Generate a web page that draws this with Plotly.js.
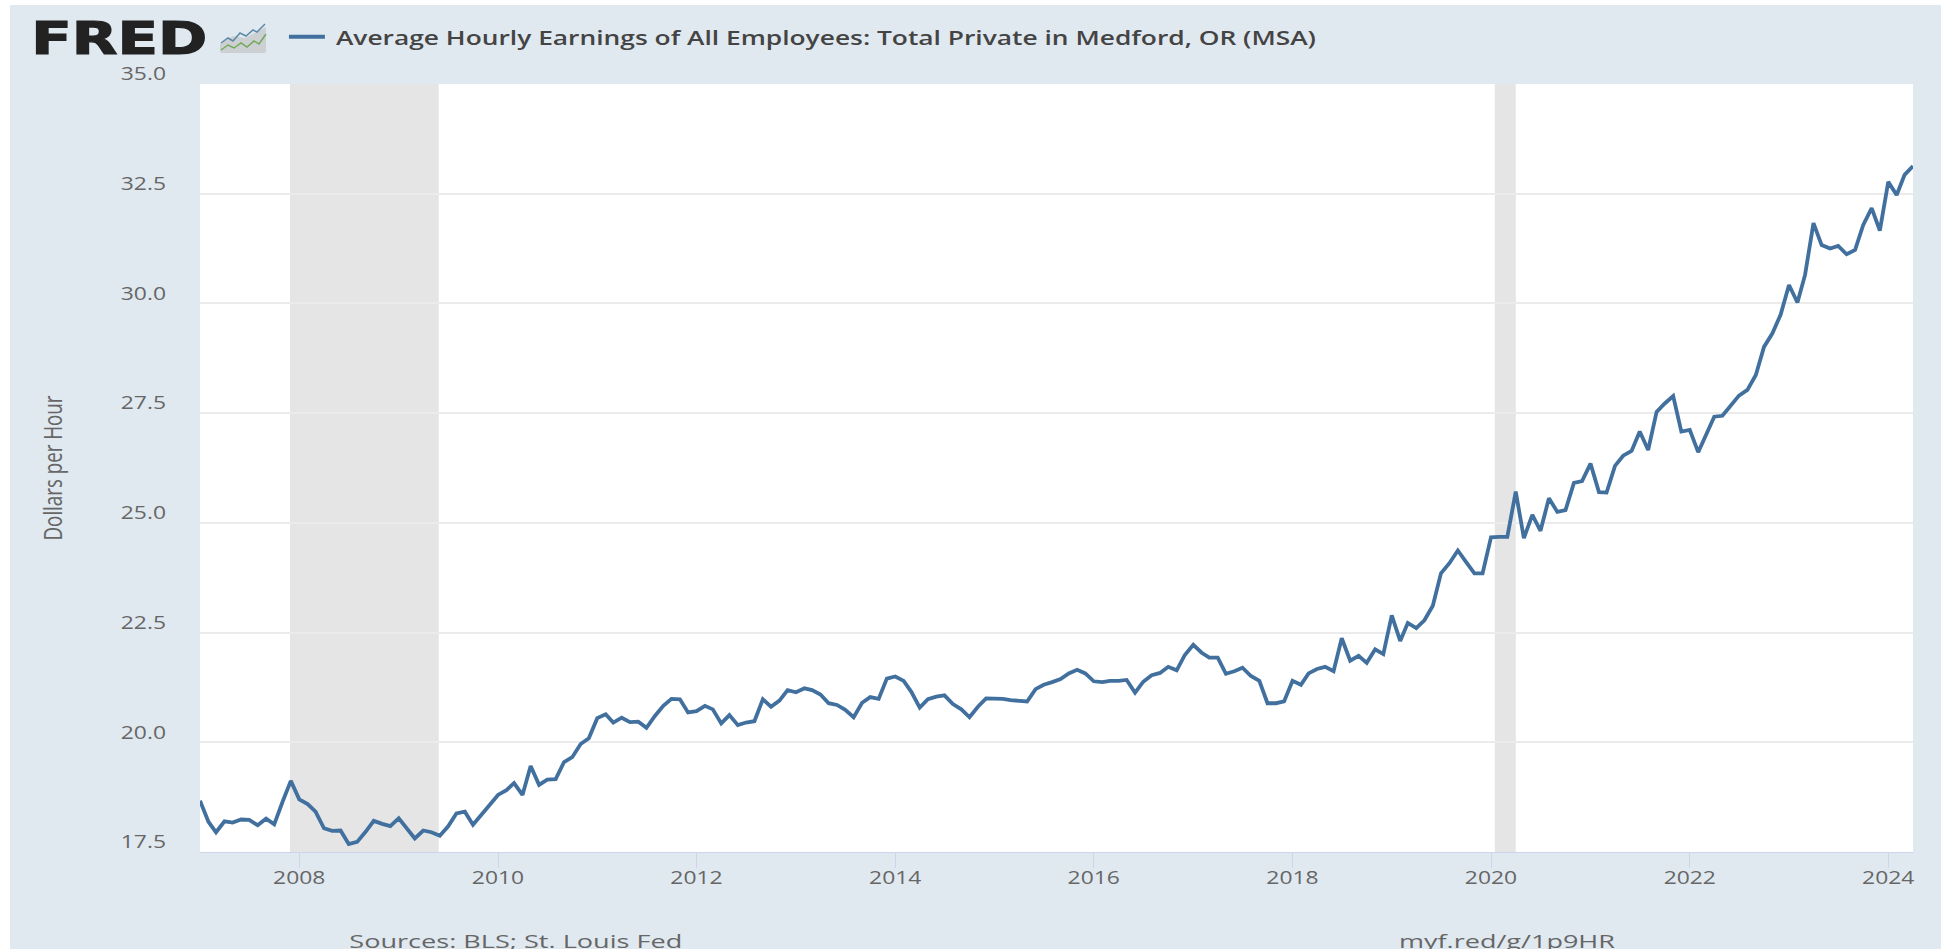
<!DOCTYPE html>
<html>
<head>
<meta charset="utf-8">
<script src="https://cdn.plot.ly/plotly-3.0.1.min.js"></script>
<style>
html,body{margin:0;padding:0;background:#fff;overflow:hidden;width:1941px;height:949px}
#chart{position:absolute;left:10px;top:5px;width:1931px;height:944px}
</style>
</head>
<body>
<div id="chart"></div>
<script>
var seriesName = "Average Hourly Earnings of All Employees: Total Private in Medford, OR (MSA)";
var startYear = 2007;
var hourlyEarnings = [
18.67,18.19,17.95,18.20,18.17,18.24,18.23,18.11,18.26,18.13,18.65,19.12,
18.70,18.59,18.42,18.04,17.98,17.99,17.68,17.73,17.96,18.21,18.14,18.09,
18.27,18.04,17.81,17.99,17.95,17.87,18.08,18.38,18.42,18.12,18.34,18.57,
18.80,18.91,19.07,18.80,19.46,19.03,19.15,19.16,19.55,19.66,19.96,20.09,
20.55,20.64,20.45,20.56,20.46,20.47,20.33,20.60,20.83,20.99,20.98,20.68,
20.71,20.83,20.75,20.43,20.62,20.39,20.45,20.48,20.98,20.81,20.95,21.19,
21.14,21.23,21.19,21.09,20.89,20.85,20.74,20.57,20.90,21.03,20.99,21.45,
21.50,21.40,21.15,20.79,20.98,21.04,21.07,20.87,20.75,20.57,20.81,21.00,
21.00,20.99,20.96,20.95,20.93,21.21,21.31,21.37,21.44,21.57,21.65,21.57,
21.39,21.37,21.40,21.40,21.42,21.13,21.38,21.53,21.58,21.72,21.64,21.99,
22.22,22.04,21.93,21.93,21.56,21.62,21.70,21.51,21.40,20.89,20.89,20.93,
21.40,21.31,21.57,21.67,21.72,21.62,22.37,21.86,21.97,21.81,22.12,22.01,
22.89,22.31,22.72,22.60,22.78,23.11,23.85,24.08,24.37,24.11,23.85,23.85,
24.67,24.68,24.68,25.71,24.65,25.18,24.82,25.56,25.25,25.29,25.91,25.95,
26.35,25.70,25.69,26.30,26.53,26.64,27.08,26.66,27.53,27.72,27.89,27.08,
27.12,26.61,27.00,27.42,27.44,27.69,27.90,28.03,28.37,29.01,29.32,29.74,
30.42,30.02,30.65,31.83,31.33,31.25,31.31,31.12,31.22,31.79,32.17,31.66,
32.77,32.47,32.93,33.13
];
var xTickYears = [2008,2010,2012,2014,2016,2018,2020,2022,2024];
var yTickValues = [17.5,20,22.5,25,27.5,30,32.5,35];
var yTickLabels = ["17.5","20.0","22.5","25.0","27.5","30.0","32.5","35.0"];
var recessionStart = ["2007-11-28","2020-01-15"];
var recessionEnd = ["2009-05-28","2020-04-01"];

function monthDate(i){
  var y = startYear + Math.floor(i/12), m = i%12 + 1;
  return y + "-" + (m<10?"0":"") + m + "-01";
}
var dates = hourlyEarnings.map(function(_,i){return monthDate(i);});

var logoIcon = "data:image/svg+xml," + encodeURIComponent(
 '<svg xmlns="http://www.w3.org/2000/svg" width="48" height="30" viewBox="0 0 48 30">' +
 '<path d="M1 21 L14 13 L26 15 L47 4 L47 28 Q47 30 45 30 L3 30 Q1 30 1 28 Z" fill="#ccd0d2"/>' +
 '<polyline points="2,20 9,15 14,18 21,10 27,13 34,7 38,9 46,1" fill="none" stroke="#5c8aa8" stroke-width="1.5"/>' +
 '<polyline points="2,27 9,22 15,25 22,20 28,24 35,18 40,21 47,11" fill="none" stroke="#73a95c" stroke-width="1.5"/>' +
 '</svg>');

var trace = {x:dates,y:hourlyEarnings,type:"scatter",mode:"lines",name:seriesName,
  line:{color:"#41709f",width:3.8},hoverinfo:"x+y"};

var shapes = recessionStart.map(function(s,i){
  return {type:"rect",xref:"x",yref:"paper",x0:s,x1:recessionEnd[i],y0:0,y1:1,
    fillcolor:"#e5e5e5",line:{width:0},layer:"between"};
});

var tickFont = {family:"Open Sans",size:18,color:"#666666"};
var layout = {
  width:1931,height:944,
  margin:{l:190,r:28,t:79,b:97,pad:0},
  paper_bgcolor:"#e1e9f0",plot_bgcolor:"#ffffff",
  showlegend:true,
  legend:{orientation:"h",x:0.0490,xanchor:"left",y:1.0615,yanchor:"middle",
    bgcolor:"rgba(0,0,0,0)",itemwidth:36,entrywidth:1100,entrywidthmode:"pixels",
    font:{family:"Open Sans",size:20,color:"#444444",weight:600}},
  xaxis:{type:"date",range:["2007-01-01","2024-04-01"],
    tickmode:"array",tickvals:xTickYears.map(function(y){return y+"-01-01";}),
    ticktext:xTickYears.map(String),
    ticks:"outside",ticklen:15,tickwidth:1,tickcolor:"#ccd6eb",ticklabelstandoff:-6,
    showline:true,linecolor:"#ccd6eb",linewidth:1,showgrid:false,zeroline:false,
    tickfont:tickFont},
  yaxis:{range:[17.5,35],tickmode:"array",tickvals:yTickValues,ticktext:yTickLabels,
    showgrid:true,gridcolor:"#ebebeb",gridwidth:2,zeroline:false,showline:false,
    ticks:"",ticklabelstandoff:33,ticklabelshift:-10,tickfont:tickFont,
    title:{text:"Dollars per Hour",standoff:60,font:{family:"Open Sans",size:26,color:"#666666"}}},
  shapes:shapes,
  images:[{source:logoIcon,xref:"paper",yref:"paper",
    x:(219-200)/1713,y:1+(84-23)/768,sizex:48/1713,sizey:30/768,
    sizing:"stretch",xanchor:"left",yanchor:"top",layer:"above"}],
  annotations:[
    {text:"FRED",xref:"paper",yref:"paper",x:(42-190)/1713,y:1+(79-33)/768,xanchor:"left",yanchor:"middle",
     showarrow:false,font:{family:"DejaVu Sans",size:44,color:"#222222",weight:700}},
    {text:"Sources: BLS; St. Louis Fed",xref:"paper",yref:"paper",x:(387-190)/1713,y:-(936-847)/768,xanchor:"left",yanchor:"middle",
     showarrow:false,font:{family:"Open Sans",size:19,color:"#666666"}},
    {text:"myf.red/g/1p9HR",xref:"paper",yref:"paper",x:(1419-190)/1713,y:-(936-847)/768,xanchor:"left",yanchor:"middle",
     showarrow:false,font:{family:"Open Sans",size:19,color:"#666666"}}
  ]
};

function stretch(el,target){
  if(!el) return;
  el.setAttribute("textLength",target);
  el.setAttribute("lengthAdjust","spacingAndGlyphs");
}
function scaleBy(selector,f){
  document.querySelectorAll(selector).forEach(function(el){
    stretch(el,el.getComputedTextLength()*f);
  });
}
Plotly.newPlot("chart",[trace],layout,{displayModeBar:false,responsive:false}).then(function(){
  scaleBy(".xtick text",1.27);
  scaleBy(".ytick text",1.27);
  var lt = document.querySelector(".legendtext");
  if(lt){
    stretch(lt,980);
    lt.setAttribute("x",parseFloat(lt.getAttribute("x")||0)+6);
  }
  var ann = document.querySelectorAll(".annotation-text");
  ann.forEach(function(a){
    if(a.textContent==="FRED"){stretch(a,176);a.setAttribute("stroke","#222222");a.setAttribute("stroke-width","1.2");}
    if(a.textContent.indexOf("Sources")===0){stretch(a,333);}
    if(a.textContent.indexOf("myf")===0){stretch(a,216);}
  });
  stretch(document.querySelector(".ytitle"),145);
});
</script>
</body>
</html>
